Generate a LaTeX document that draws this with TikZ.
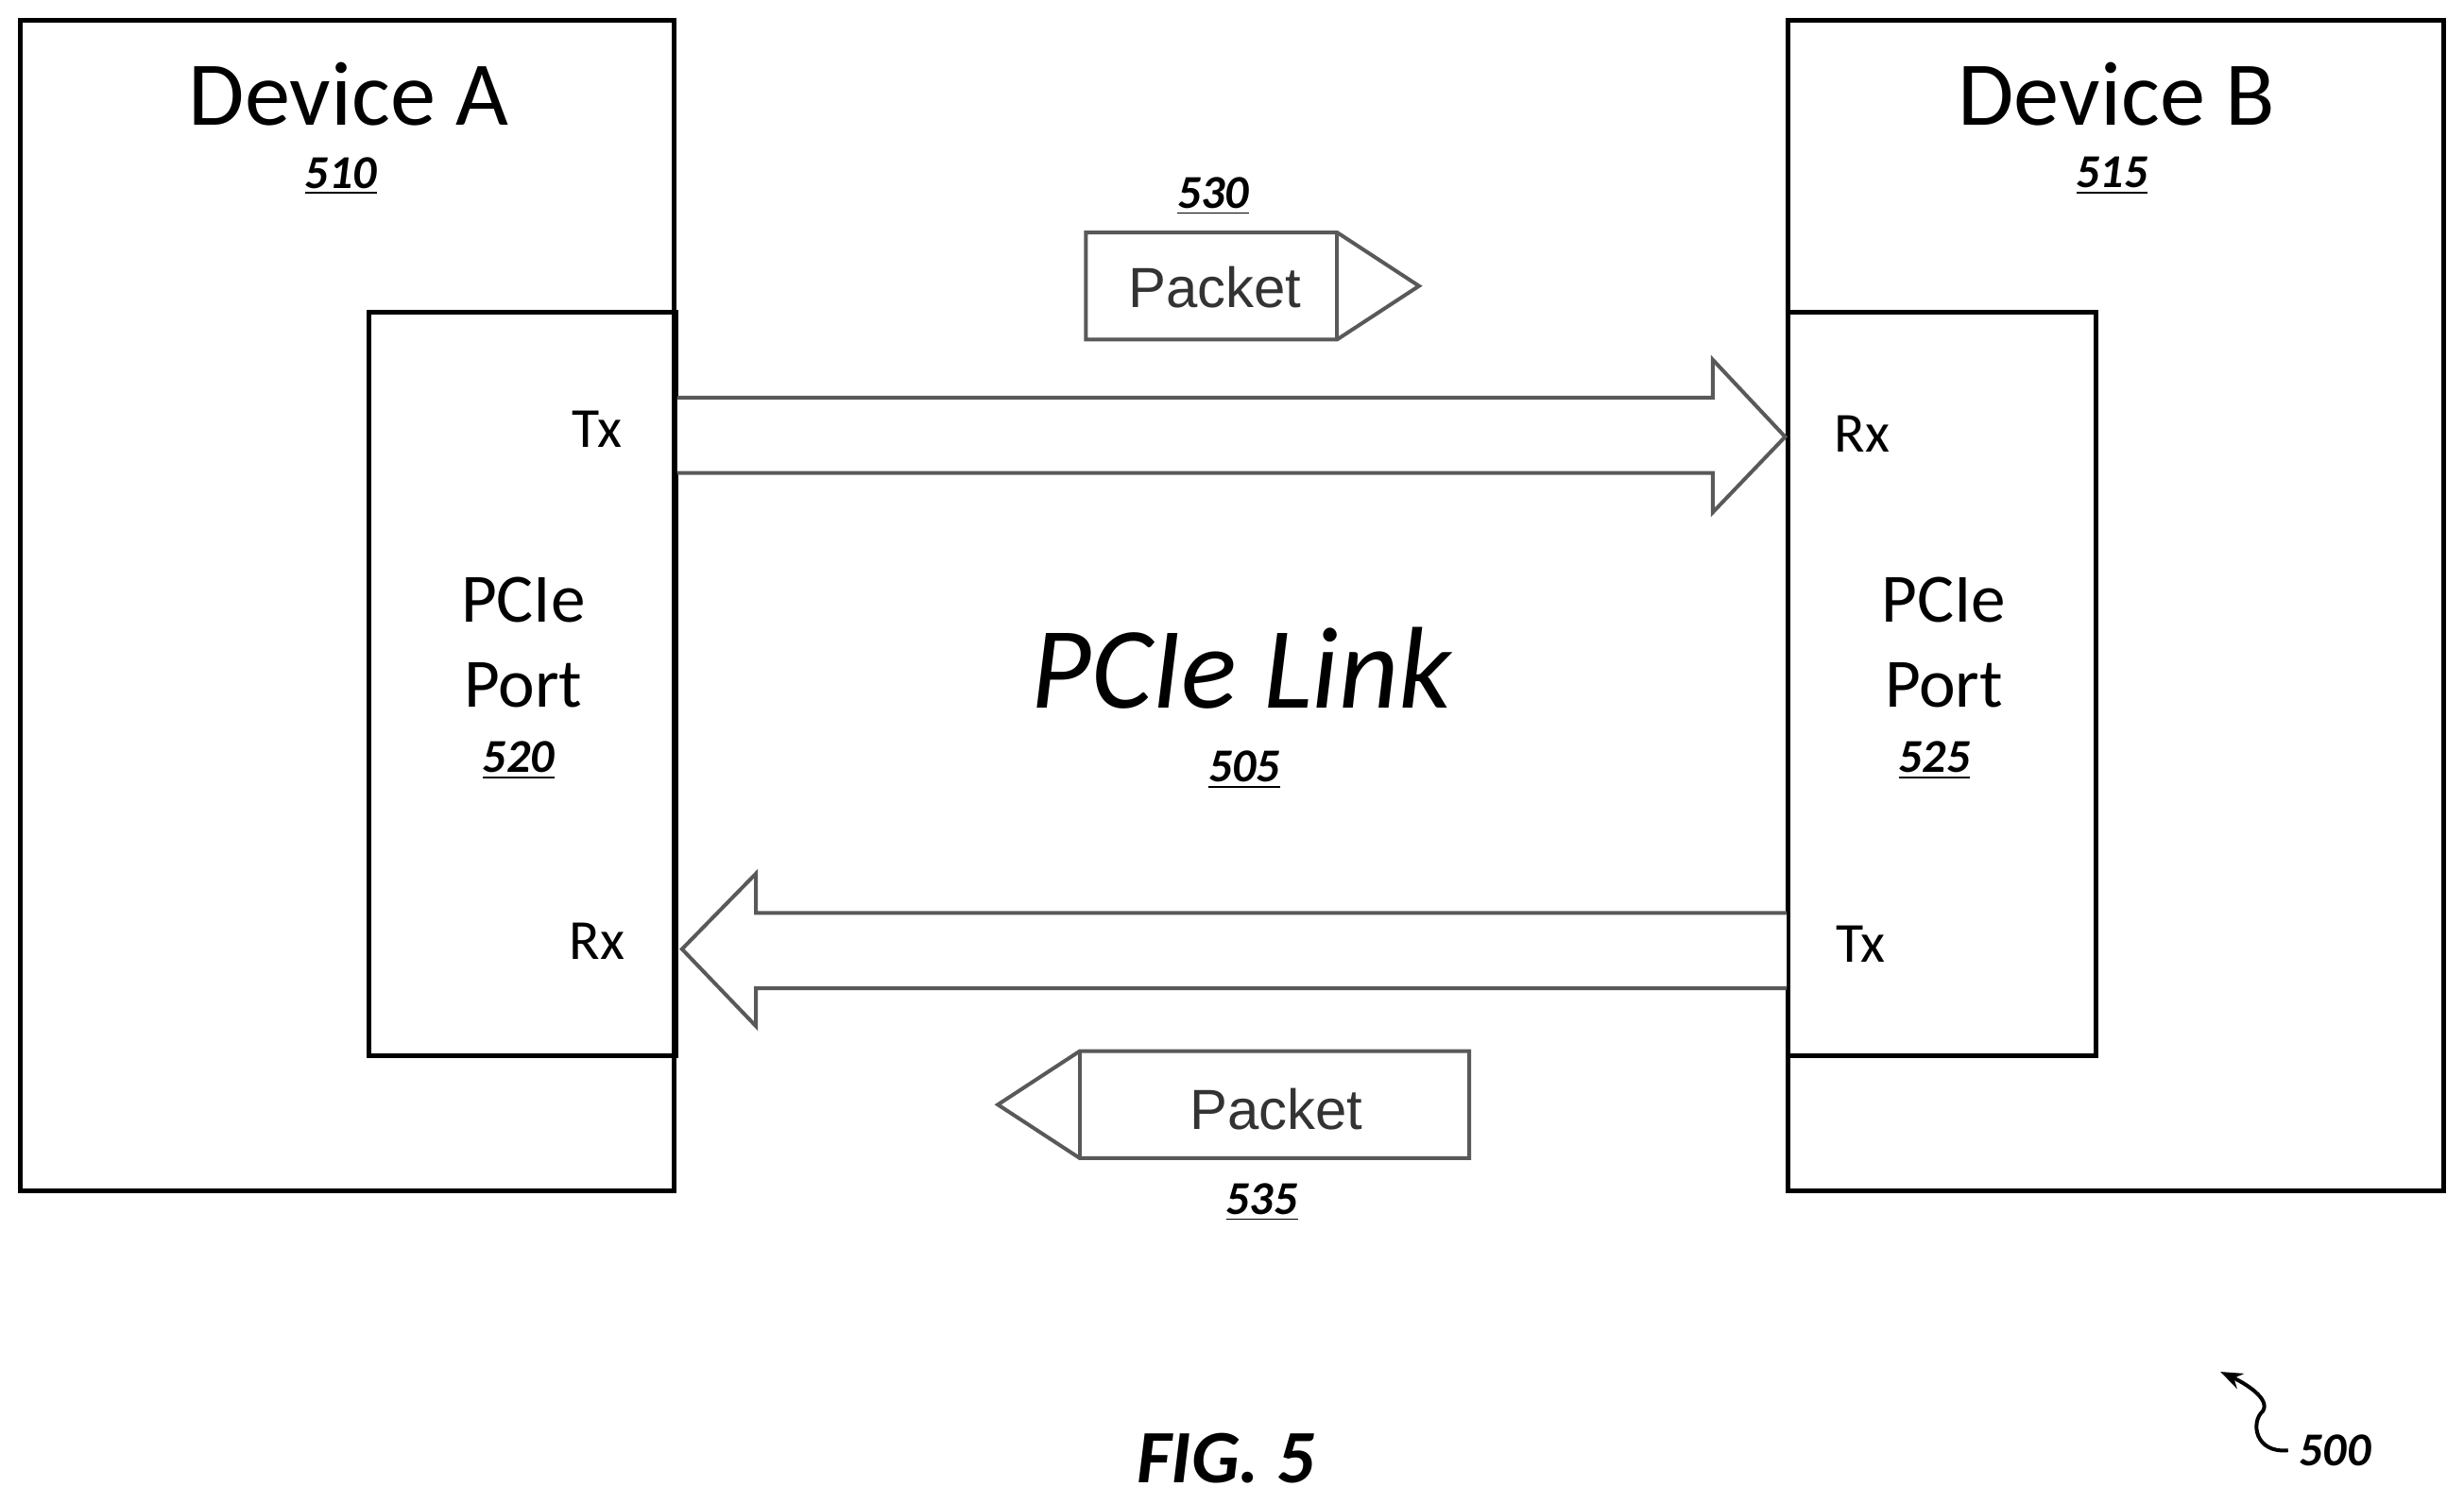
\documentclass[tikz,border=0pt]{standalone}
\usepackage{fontspec}
\usetikzlibrary{arrows.meta}
\setmainfont{Carlito}
\newfontfamily\arialf{Liberation Sans}
\begin{document}
\begin{tikzpicture}[x=0.5pt,y=-0.5pt,
  box/.style={draw=black,line width=1.5pt},
  garrow/.style={draw=black!65,line width=1.2pt,fill=white,line join=miter},
  num/.style={font=\fontsize{15}{17}\selectfont\bfseries\itshape},
  big/.style={font=\fontsize{29}{32}\selectfont},
  mid/.style={font=\fontsize{22}{24}\selectfont},
  sm/.style={font=\fontsize{18}{20}\selectfont},
  pk/.style={font=\arialf\fontsize{18}{20}\selectfont,text=black!80}]
\useasboundingbox (0,0) rectangle (1568,957);
\draw[box] (13,13) rectangle (429,758);
\draw[box] (1138,13) rectangle (1555,758);
\draw[box] (235,199) rectangle (430,672);
\draw[box] (1138,199) rectangle (1334,672);
\node[big] (da) at (222,60) {Device A};
\node[num] (n510) at (217,112) {\underline{510}};
\node[big] (db) at (1347,60) {Device B};
\node[num] (n515) at (1344,112) {\underline{515}};
\node[sm] (txa) at (380,273) {Tx};
\node[mid] (pa1) at (333,382) {PCIe};
\node[mid] (pa2) at (333,436) {Port};
\node[num] (n520) at (330,484) {\underline{520}};
\node[sm] (rxa) at (380,599) {Rx};
\node[sm] (rxb) at (1185,276) {Rx};
\node[mid] (pb1) at (1237,382) {PCIe};
\node[mid] (pb2) at (1237,436) {Port};
\node[num] (n525) at (1231,484) {\underline{525}};
\node[sm] (txb) at (1184,601) {Tx};
% arrows
\draw[garrow] (431,253) -- (1090,253) -- (1090,229) -- (1136,278) -- (1090,326) -- (1090,301) -- (431,301);
\draw[garrow] (1137,581) -- (481,581) -- (481,556) -- (434,604) -- (481,653) -- (481,629) -- (1137,629);
% packets
\draw[garrow] (691,148) -- (851,148) -- (903,182) -- (851,216) -- (691,216) -- cycle;
\draw[garrow] (851,148) -- (851,216);
\node[pk] (p1) at (773,183) {Packet};
\node[num] (n530) at (772,125) {\underline{530}};
\draw[garrow] (935,669) -- (687,669) -- (635,703) -- (687,737) -- (935,737) -- cycle;
\draw[garrow] (687,669) -- (687,737);
\node[pk] (p2) at (812,706) {Packet};
\node[num] (n535) at (803,765) {\underline{535}};
\node[font=\fontsize{37}{40}\selectfont\itshape] (link) at (790,425) {PCIe Link};
\node[num] (n505) at (792,490) {\underline{505}};
\node[font=\fontsize{24}{26}\selectfont\bfseries\itshape] (fig) at (780,928) {FIG. 5};
\node[num,anchor=west] (n500) at (1456,923) {500};
\coordinate (s) at (1413,873);
\draw[line width=1.2pt,-{Stealth[length=7pt]}] (n500.west) .. controls (1435,925) and (1432,905) .. (1440,898) .. controls (1445,890) and (1428,880) .. (s);
\end{tikzpicture}
\end{document}
